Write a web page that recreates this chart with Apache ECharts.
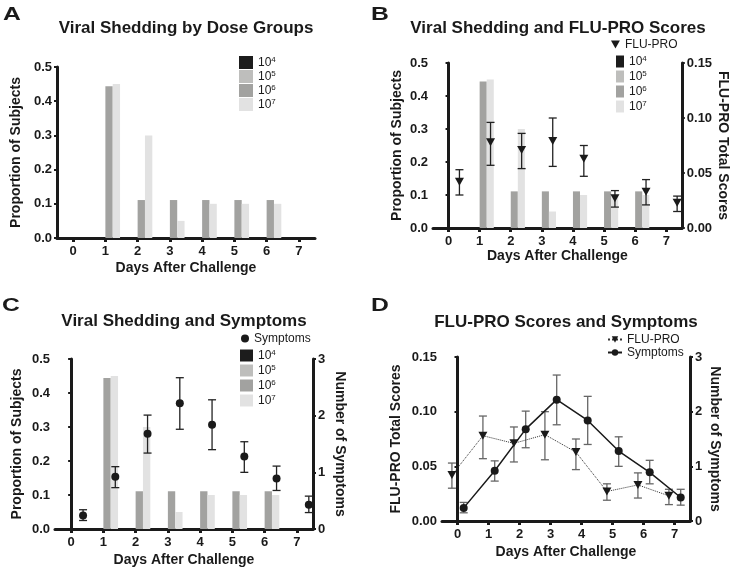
<!DOCTYPE html>
<html>
<head>
<meta charset="utf-8">
<script src="https://cdn.jsdelivr.net/npm/echarts@6/dist/echarts.min.js"></script>
<style>
  html, body {margin: 0; padding: 0; background: #fff;}
  #chart {width: 731px; height: 572px;}
</style>
</head>
<body>
<div id="chart"></div>
<script>
// data
var days = ['0', '1', '2', '3', '4', '5', '6', '7']
var doseNames = ['10^4', '10^5', '10^6', '10^7']
var dose4 = [0, 0, 0, 0, 0, 0, 0, 0]
var dose5 = [0, 0, 0, 0, 0, 0, 0, 0]
var dose6 = [0, 0.444, 0.111, 0.111, 0.111, 0.111, 0.111, 0]
var dose7 = [0, 0.45, 0.30, 0.05, 0.10, 0.10, 0.10, 0]

var fluPro = [0.042, 0.078, 0.071, 0.079, 0.063, 0.027, 0.033, 0.023]
var fluProLow = [0.030, 0.057, 0.054, 0.056, 0.047, 0.019, 0.021, 0.015]
var fluProHigh = [0.053, 0.096, 0.086, 0.100, 0.075, 0.034, 0.044, 0.029]

var symptoms = [0.24, 0.92, 1.68, 2.22, 1.84, 1.28, 0.89, 0.43]
var symptomsLow = [0.15, 0.73, 1.34, 1.76, 1.40, 1.00, 0.68, 0.29]
var symptomsHigh = [0.34, 1.10, 2.01, 2.67, 2.28, 1.54, 1.11, 0.58]

var FONT = 'Liberation Sans, Arial, sans-serif'
var INK = '#1a1a1a'
var doseColors = ['#1c1c1c', '#bebebc', '#a2a2a0', '#e2e2e2']
var doseValues = [dose4, dose5, dose6, dose7]
var triangleDown = 'path://M0,0L10,0L5,9Z'

var legendLabels = {
  '10^4': '10{s|4}', '10^5': '10{s|5}', '10^6': '10{s|6}', '10^7': '10{s|7}',
  fluB: 'FLU-PRO', symC: 'Symptoms', fluD: 'FLU-PRO', symD: 'Symptoms'
}

var chart = echarts.init(document.getElementById('chart'))

function catAxis(grid) {
  return {
    type: 'category', gridIndex: grid, data: days,
    name: 'Days After Challenge', nameLocation: 'middle',
    nameTextStyle: {fontFamily: FONT, fontWeight: 'bold', fontSize: 14, color: INK},
    axisLine: {lineStyle: {color: INK, width: 3}},
    axisTick: {show: true, alignWithLabel: true, length: 4, lineStyle: {color: INK, width: 3}},
    axisLabel: {fontFamily: FONT, fontWeight: 'bold', fontSize: 13, color: INK, margin: 7},
    splitLine: {show: false}
  }
}

function hiddenX(grid) {
  return {type: 'value', gridIndex: grid, min: -0.5, max: 7.5, show: false}
}

function valAxis(grid, pos, max, interval, digits, name, gap) {
  return {
    type: 'value', gridIndex: grid, position: pos, min: 0, max: max, interval: interval,
    name: name, nameLocation: 'middle', nameGap: gap, nameRotate: pos === 'right' ? -90 : 90,
    nameTextStyle: {fontFamily: FONT, fontWeight: 'bold', fontSize: 14, color: INK},
    axisLine: {show: true, lineStyle: {color: INK, width: 3}},
    axisTick: {show: true, length: 3, lineStyle: {color: INK, width: 2}},
    axisLabel: {
      fontFamily: FONT, fontWeight: 'bold', fontSize: 13, color: INK, margin: 5,
      formatter: function (v) { return v.toFixed(digits) }
    },
    splitLine: {show: false}
  }
}

function barSeries(xi, yi) {
  return doseNames.map(function (n, k) {
    return {
      name: n, type: 'bar', xAxisIndex: xi, yAxisIndex: yi,
      data: doseValues[k], barGap: '0%', barCategoryGap: '9%',
      itemStyle: {color: doseColors[k]}, z: 2
    }
  })
}

function errorBars(xi, yi, values, low, high, offset, color) {
  return {
    type: 'custom', xAxisIndex: xi, yAxisIndex: yi, z: 3,
    data: values.map(function (v, i) { return [i + offset, low[i], high[i]] }),
    encode: {x: 0, y: [1, 2]},
    renderItem: function (params, api) {
      var x = api.value(0)
      var lo = api.coord([x, api.value(1)])
      var hi = api.coord([x, api.value(2)])
      var w = 4
      var style = {stroke: color, lineWidth: 1.3}
      return {
        type: 'group', children: [
          {type: 'line', shape: {x1: hi[0], y1: hi[1], x2: lo[0], y2: lo[1]}, style: style},
          {type: 'line', shape: {x1: hi[0] - w, y1: hi[1], x2: hi[0] + w, y2: hi[1]}, style: style},
          {type: 'line', shape: {x1: lo[0] - w, y1: lo[1], x2: lo[0] + w, y2: lo[1]}, style: style}
        ]
      }
    }
  }
}

function points(values, offset) {
  return values.map(function (v, i) { return [i + offset, v] })
}

var legendText = {
  fontFamily: FONT, fontSize: 12, color: INK, lineHeight: 13,
  rich: {s: {fontFamily: FONT, fontSize: 8, color: INK, verticalAlign: 'top', lineHeight: 13, padding: [0, 0, 5, 0]}}
}

function legend(opts) {
  return Object.assign({
    orient: 'vertical', padding: 0, itemGap: 1, selectedMode: false,
    formatter: function (n) { return legendLabels[n] },
    textStyle: legendText
  }, opts)
}

function letter(ch, x, y) {
  return {
    type: 'text', left: x, top: y, scaleX: 1.3,
    style: {text: ch, font: 'bold 19px ' + FONT, fill: INK}
  }
}

function title(text, cx, top) {
  return {
    text: text, left: cx, top: top, textAlign: 'center', padding: 0,
    textStyle: {fontFamily: FONT, fontWeight: 'bold', fontSize: 17, color: INK}
  }
}

var xA = catAxis(0); xA.nameGap = 23
var xB = catAxis(1); xB.nameGap = 18
var xC = catAxis(2); xC.nameGap = 24
var xD = catAxis(3); xD.nameGap = 24

var option = {
  animation: false,
  backgroundColor: '#fff',
  title: [
    title('Viral Shedding by Dose Groups', 186, 20),
    title('Viral Shedding and FLU-PRO Scores', 558, 20),
    title('Viral Shedding and Symptoms', 184, 313),
    title('FLU-PRO Scores and Symptoms', 566, 314)
  ],
  graphic: [
    letter('A', 3, 5),
    letter('B', 371, 5),
    letter('C', 2, 296),
    letter('D', 371, 296)
  ],
  grid: [
    {left: 57, top: 67, width: 258, height: 171},
    {left: 433, top: 63, width: 250, height: 165},
    {left: 55, top: 359, width: 258, height: 170},
    {left: 442, top: 357, width: 248, height: 164}
  ],
  legend: [
    legend({data: doseNames, icon: 'rect', left: 239, top: 56, itemWidth: 14, itemHeight: 13}),
    legend({data: ['fluB'], left: 611, top: 38, itemWidth: 9, itemHeight: 8}),
    legend({data: doseNames, icon: 'rect', left: 616, top: 55, itemWidth: 8, itemHeight: 12, itemGap: 2}),
    legend({data: ['symC'], left: 241, top: 332, itemWidth: 8, itemHeight: 8}),
    legend({data: doseNames, icon: 'rect', left: 240, top: 349, itemWidth: 13, itemHeight: 12, itemGap: 2}),
    legend({data: ['fluD', 'symD'], left: 607, top: 333, itemWidth: 14, itemHeight: 8, itemGap: 0})
  ],
  xAxis: [xA, xB, hiddenX(1), xC, hiddenX(2), xD, hiddenX(3)],
  yAxis: [
    valAxis(0, 'left', 0.5, 0.1, 1, 'Proportion of Subjects', 34),
    valAxis(1, 'left', 0.5, 0.1, 1, 'Proportion of Subjects', 29),
    valAxis(1, 'right', 0.15, 0.05, 2, 'FLU-PRO Total Scores', 32),
    valAxis(2, 'left', 0.5, 0.1, 1, 'Proportion of Subjects', 31),
    valAxis(2, 'right', 3, 1, 0, 'Number of Symptoms', 20),
    valAxis(3, 'left', 0.15, 0.05, 2, 'FLU-PRO Total Scores', 39),
    valAxis(3, 'right', 3, 1, 0, 'Number of Symptoms', 18)
  ],
  series: [].concat(
    barSeries(0, 0),
    barSeries(1, 1),
    [
      errorBars(2, 2, fluPro, fluProLow, fluProHigh, 0.35, '#222'),
      {
        name: 'fluB', type: 'scatter', xAxisIndex: 2, yAxisIndex: 2, z: 4,
        symbol: triangleDown, symbolSize: [9, 8], itemStyle: {color: INK, opacity: 1},
        data: points(fluPro, 0.35)
      }
    ],
    barSeries(3, 3),
    [
      errorBars(4, 4, symptoms, symptomsLow, symptomsHigh, 0.37, '#222'),
      {
        name: 'symC', type: 'scatter', xAxisIndex: 4, yAxisIndex: 4, z: 4,
        symbol: 'circle', symbolSize: 8, itemStyle: {color: INK, opacity: 1},
        data: points(symptoms, 0.37)
      },
      errorBars(6, 5, fluPro, fluProLow, fluProHigh, -0.18, '#666'),
      errorBars(6, 6, symptoms, symptomsLow, symptomsHigh, 0.2, '#666'),
      {
        name: 'fluD', type: 'line', xAxisIndex: 6, yAxisIndex: 5, z: 4,
        symbol: triangleDown, symbolSize: [9, 8], showSymbol: true,
        itemStyle: {color: INK}, lineStyle: {color: '#333', width: 1, type: 'dotted'},
        data: points(fluPro, -0.18)
      },
      {
        name: 'symD', type: 'line', xAxisIndex: 6, yAxisIndex: 6, z: 4,
        symbol: 'circle', symbolSize: 8, showSymbol: true,
        itemStyle: {color: INK}, lineStyle: {color: INK, width: 1.5},
        data: points(symptoms, 0.2)
      }
    ]
  )
}

chart.setOption(option)
</script>
</body>
</html>
